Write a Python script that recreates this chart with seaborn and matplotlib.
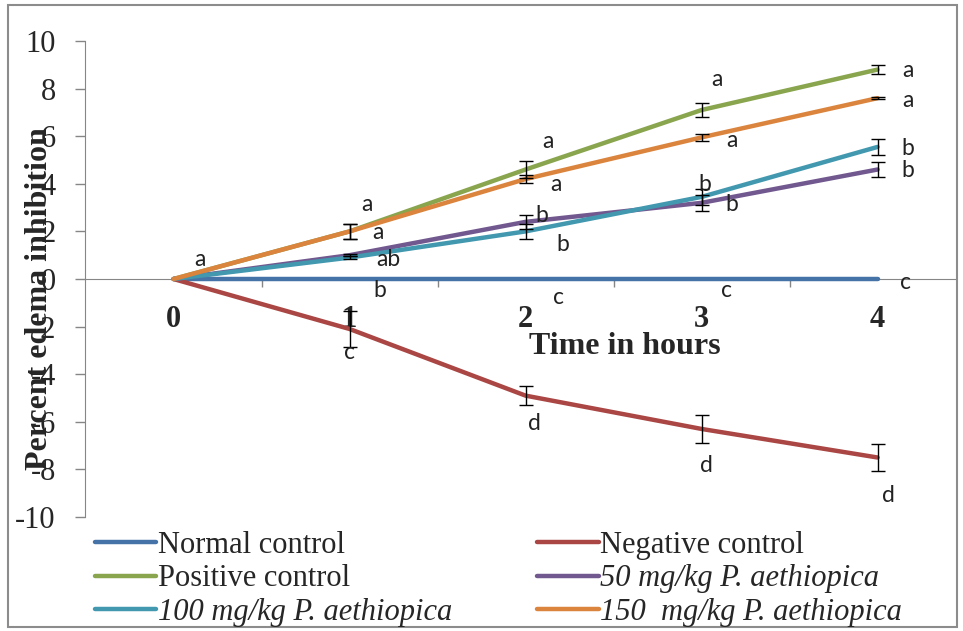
import numpy as np
import pandas as pd
import matplotlib
matplotlib.use("Agg")
import matplotlib.pyplot as plt
import seaborn as sns
from matplotlib.patches import Rectangle
from matplotlib.lines import Line2D

# ---------------- data ----------------
hours = [0, 1, 2, 3, 4]
groups = ["Normal control", "Negative control", "Positive control",
          "50 mg/kg P. aethiopica", "100 mg/kg P. aethiopica",
          "150  mg/kg P. aethiopica"]
normal_ctrl = [0, 0, 0, 0, 0]
negative_ctrl = [0, -2.1, -4.9, -6.3, -7.5]
positive_ctrl = [0, 2.0, 4.6, 7.1, 8.8]
dose_50 = [0, 1.0, 2.4, 3.2, 4.6]
dose_100 = [0, 0.9, 2.0, 3.45, 5.55]
dose_150 = [0, 2.0, 4.2, 5.95, 7.6]

err_normal = [0, 0, 0, 0, 0]
err_negative = [0, 0.75, 0.4, 0.6, 0.55]
err_positive = [0, 0.3, 0.35, 0.3, 0.2]
err_50 = [0, 0.05, 0.3, 0.35, 0.33]
err_100 = [0, 0.05, 0.3, 0.35, 0.33]
err_150 = [0, 0.3, 0.17, 0.15, 0.05]

# significance letters: (letter, x, y)
letters = [
    ("a", 0.15, 0.84),
    ("a", 1.10, 3.15), ("a", 1.16, 1.97), ("ab", 1.22, 0.84), ("b", 1.17, -0.5), ("c", 1.0, -3.07),
    ("a", 2.13, 5.76), ("a", 2.17, 3.95), ("b", 2.09, 2.65), ("b", 2.21, 1.47), ("c", 2.19, -0.76), ("d", 2.05, -6.09),
    ("a", 3.09, 8.40), ("a", 3.17, 5.84), ("b", 3.02, 3.99), ("b", 3.17, 3.11), ("c", 3.14, -0.5), ("d", 3.03, -7.82),
    ("a", 4.17, 8.78), ("a", 4.17, 7.48), ("b", 4.17, 5.50), ("b", 4.17, 4.54), ("c", 4.16, -0.13), ("d", 4.06, -9.08),
]

y_ticks = [-10, -8, -6, -4, -2, 0, 2, 4, 6, 8, 10]

colors = ["#4572A7", "#AA4643", "#89A54E", "#71588F", "#4198AF", "#DB843D"]

series = [normal_ctrl, negative_ctrl, positive_ctrl, dose_50, dose_100, dose_150]
errors = [err_normal, err_negative, err_positive, err_50, err_100, err_150]

df = pd.DataFrame({
    "hour": np.tile(hours, len(groups)),
    "group": np.repeat(groups, len(hours)),
    "value": np.concatenate(series),
    "err": np.concatenate(errors),
})

# ---------------- style ----------------
sns.set_style("white")
plt.rcParams["font.family"] = ["Liberation Serif", "DejaVu Serif"]

fig = plt.figure(figsize=(9.63, 6.31), dpi=100)
W, H = 963, 631
ax = fig.add_axes([85 / W, 1 - 517 / H, 870 / W, 476 / H])

sns.lineplot(data=df, x="hour", y="value", hue="group", hue_order=groups,
             palette=colors, linewidth=3.2, ax=ax, legend=False, sort=False,
             zorder=3)

eb = df[df["err"] > 0]
ax.errorbar(eb["hour"], eb["value"], yerr=eb["err"], fmt="none",
            ecolor="black", elinewidth=1, capsize=5, capthick=1, zorder=4)

for txt, x, y in letters:
    ax.text(x, y, txt, ha="center", va="center", fontsize=16.5,
            family=["Lato", "DejaVu Sans"], color="#222222", zorder=5)

# spines first (set_position resets tick properties)
for s in ["top", "right"]:
    ax.spines[s].set_visible(False)
ax.spines["bottom"].set_position(("data", 0))
ax.spines["bottom"].set_color("#868686")
ax.spines["left"].set_color("#868686")
ax.spines["bottom"].set_zorder(1)

ax.set_xlim(-0.503, 4.44)
ax.set_ylim(-10, 10)
ax.set_yticks(y_ticks)
ax.set_yticklabels([str(t) for t in y_ticks], fontsize=22)
ax.set_xticks(hours)
ax.set_xticklabels([str(h) for h in hours], fontsize=22, fontweight="bold")
ax.set_xticks([0.5, 1.5, 2.5, 3.5], minor=True)
ax.tick_params(axis="x", which="major", length=0, pad=19)
ax.tick_params(axis="x", which="minor", length=6, width=1, color="#868686",
               direction="out", bottom=True)
ax.tick_params(axis="y", which="major", length=7, width=1, color="#868686",
               direction="out", left=True, pad=14)

ax.set_xlabel("Time in hours", fontsize=23, fontweight="bold", va="center")
ax.xaxis.set_label_coords(0.621, 0.359)
ax.set_ylabel("Percent edema inhibition", fontsize=23, fontweight="bold", va="center")
ax.yaxis.set_label_coords(-0.052, 0.458)

handles = [Line2D([], [], color=c, lw=3.2) for c in colors]
order = [0, 2, 4, 1, 3, 5]
leg = fig.legend([handles[i] for i in order], [groups[i] for i in order],
                 ncol=2, loc="upper left", bbox_to_anchor=(95 / W, 1 - 531 / H),
                 frameon=False, fontsize=22, handlelength=2.0,
                 handletextpad=0.05, columnspacing=2.8, labelspacing=0.14,
                 borderpad=0, borderaxespad=0)
for t in leg.get_texts():
    if "mg/kg" in t.get_text():
        t.set_style("italic")

fig.patches.append(Rectangle((8 / W, 4 / H), (957 - 8) / W, (626 - 4) / H,
                             transform=fig.transFigure, fill=False,
                             edgecolor="#8c8c8c", lw=1.5))

fig.savefig("out.png", dpi=100)
